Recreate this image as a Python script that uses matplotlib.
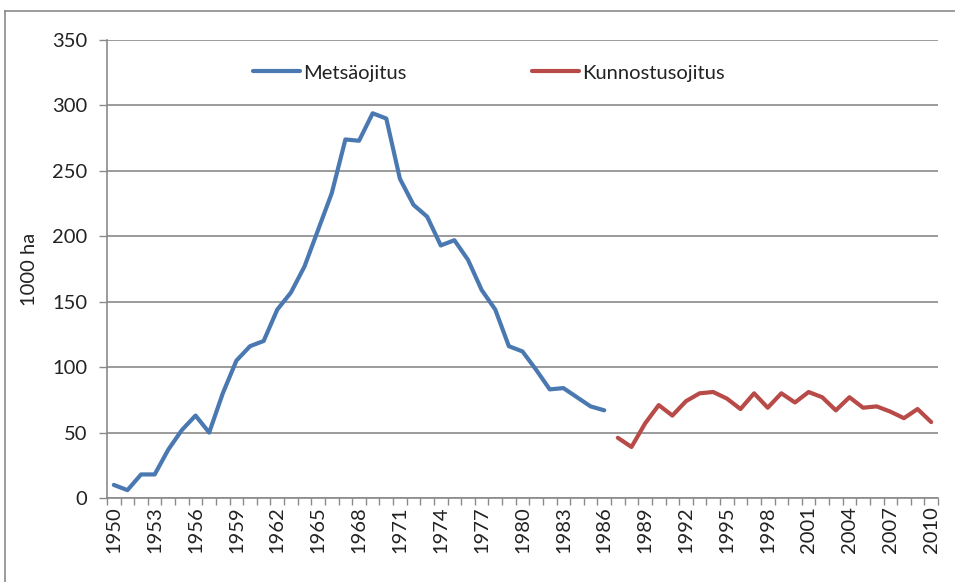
import numpy as np
import matplotlib.pyplot as plt
from matplotlib.lines import Line2D

plt.rcParams['font.family'] = ['Lato', 'DejaVu Sans']

years = list(range(1950, 2011))
# Metsäojitus 1950-1986
metsaojitus = [10, 6, 18, 18, 37, 52, 63, 50, 80, 105, 116, 120, 144, 157, 177,
               205, 233, 274, 273, 294, 290, 244, 224, 215, 193, 197, 182, 159,
               144, 116, 112, 98, 83, 84, 77, 70, 67]
# Kunnostusojitus 1987-2010
kunnostusojitus = [46, 39, 57, 71, 63, 74, 80, 81, 76, 68, 80, 69, 80, 73, 81,
                   77, 67, 77, 69, 70, 66, 61, 68, 58]
yticks = [0, 50, 100, 150, 200, 250, 300, 350]

n1 = len(metsaojitus)
x1 = np.arange(n1)
x2 = np.arange(n1, n1 + len(kunnostusojitus))

W, H = 955, 582
fig = plt.figure(figsize=(W / 100, H / 100), dpi=100)
ax = fig.add_axes([107 / W, 1 - 498 / H, (938 - 107) / W, (498 - 40) / H])

blue = '#4a78b0'
red = '#b84a48'
grid = '#8a8a8a'
fs = 14.5

ax.plot(x1, metsaojitus, color=blue, lw=3, label='Metsäojitus', solid_capstyle='round')
ax.plot(x2, kunnostusojitus, color=red, lw=3, label='Kunnostusojitus', solid_capstyle='round')

ax.set_xlim(-0.5, len(years) - 0.5)
ax.set_ylim(0, 350)
ax.set_yticks(yticks)
ax.yaxis.grid(True, color=grid, lw=1.2)
ax.set_axisbelow(True)

lab_idx = list(range(0, len(years), 3))
ax.set_xticks(lab_idx)
ax.set_xticklabels([str(years[i]) for i in lab_idx], rotation=90)
ax.set_xticks(np.arange(-0.5, len(years), 1), minor=True)
ax.tick_params(axis='x', which='major', length=0, pad=6, labelsize=fs, colors='#222222')
ax.tick_params(axis='x', which='minor', length=5, width=1, color=grid, direction='out')
ax.tick_params(axis='y', length=6, width=1, color=grid, labelsize=fs, pad=8, labelcolor='#222222')

for s in ['top', 'right']:
    ax.spines[s].set_visible(False)
for s in ['left', 'bottom']:
    ax.spines[s].set_color(grid)
    ax.spines[s].set_linewidth(1.2)

ax.set_ylabel('1000 ha', fontsize=fs, color='#222222', labelpad=10)

leg = ax.legend(loc='center left', bbox_to_anchor=(253 / W, 1 - 73 / H),
                bbox_transform=fig.transFigure, ncol=2, frameon=False,
                fontsize=fs, handlelength=2.35, handletextpad=0.15,
                columnspacing=6.2, borderpad=0, borderaxespad=0)
for t in leg.get_texts():
    t.set_color('#222222')

# outer chart border
fig.add_artist(Line2D([5 / W, 5 / W], [0, 1 - 11 / H], color='#8a8a8a', lw=1.2))
fig.add_artist(Line2D([5 / W, 1], [1 - 11 / H, 1 - 11 / H], color='#8a8a8a', lw=1.2))

fig.savefig('out.png', dpi=100)
